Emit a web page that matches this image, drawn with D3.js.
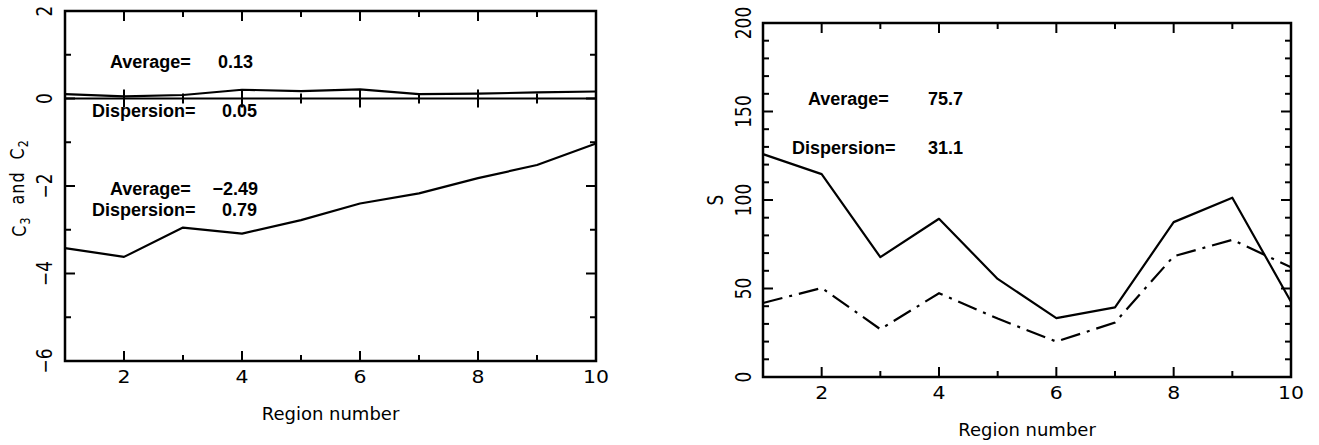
<!DOCTYPE html>
<html>
<head>
<meta charset="utf-8">
<script src="https://cdn.jsdelivr.net/npm/d3@7"></script>
<style>
body { margin: 0; background: #fff; }
svg { display: block; }
</style>
</head>
<body>
<svg id="chart" width="1319" height="445"></svg>
<script>
var regions = [1, 2, 3, 4, 5, 6, 7, 8, 9, 10];
var c2_values = [0.10, 0.05, 0.08, 0.20, 0.17, 0.21, 0.10, 0.11, 0.14, 0.16];
var c3_values = [-3.42, -3.62, -2.95, -3.09, -2.78, -2.40, -2.17, -1.82, -1.52, -1.03];
var s_solid = [125.9, 114.6, 67.7, 89.4, 55.4, 33.3, 39.3, 87.5, 101.3, 42.5];
var s_dashdot = [41.8, 50.3, 27.0, 47.3, 33.0, 20.0, 30.8, 68.2, 77.5, 62.0];
var x_tick_labels = [2, 4, 6, 8, 10];
var left_y_labels = [2, 0, -2, -4, -6];
var right_y_labels = [0, 50, 100, 150, 200];
var left_notes = [['Average=', '0.13'], ['Dispersion=', '0.05'], ['Average=', '\u22122.49'], ['Dispersion=', '0.79']];
var right_notes = [['Average=', '75.7'], ['Dispersion=', '31.1']];

var svg = d3.select('#chart');
var font = 'DejaVu Sans, sans-serif';
var note_font = 'Liberation Sans, Arial, sans-serif';
var fmt = d3.format('d');

function draw_ticks(g, x, y, y_minor, y_major_step) {
    var xr = x.range(), yr = y.range();
    var x_minor = d3.range(1, 11);
    var segs = [];
    x_minor.forEach(function (v) {
        var len = v % 2 == 0 ? 10 : 6;
        segs.push([x(v), yr[0], x(v), yr[0] - len]);
        segs.push([x(v), yr[1], x(v), yr[1] + len]);
    });
    y_minor.forEach(function (v) {
        var len = v % y_major_step == 0 ? 10 : 6;
        segs.push([xr[0], y(v), xr[0] + len, y(v)]);
        segs.push([xr[1], y(v), xr[1] - len, y(v)]);
    });
    g.selectAll('line.tick').data(segs).enter().append('line')
        .attr('class', 'tick')
        .attr('x1', function (d) { return d[0]; })
        .attr('y1', function (d) { return d[1]; })
        .attr('x2', function (d) { return d[2]; })
        .attr('y2', function (d) { return d[3]; })
        .attr('stroke', 'black')
        .attr('stroke-width', 2);
    g.append('rect')
        .attr('x', xr[0])
        .attr('y', yr[1])
        .attr('width', xr[1] - xr[0])
        .attr('height', yr[0] - yr[1])
        .attr('fill', 'none')
        .attr('stroke', 'black')
        .attr('stroke-width', 2.5);
}

function draw_labels(g, x, y, y_labels, label_x, x_title) {
    var yb = y.range()[0];
    g.selectAll('text.xl').data(x_tick_labels).enter().append('text')
        .attr('class', 'xl')
        .attr('transform', function (d) { return 'translate(' + x(d) + ',' + (yb + 22) + ') scale(1.2,1)'; })
        .attr('text-anchor', 'middle')
        .style('font-family', font)
        .style('font-size', '17px')
        .text(fmt);
    g.selectAll('text.yl').data(y_labels).enter().append('text')
        .attr('class', 'yl')
        .attr('transform', function (d) { return 'translate(' + label_x + ',' + y(d) + ') scale(1.2,1) rotate(-90)'; })
        .attr('text-anchor', 'middle')
        .attr('dy', '0.36em')
        .style('font-family', font)
        .style('font-size', '17px')
        .text(fmt);
    var xr = x.range();
    g.append('text')
        .attr('x', (xr[0] + xr[1]) / 2)
        .attr('y', yb + 59)
        .attr('text-anchor', 'middle')
        .style('font-family', font)
        .style('font-size', '18px')
        .text(x_title);
}

function draw_notes(g, notes, spots) {
    notes.forEach(function (n, i) {
        var s = spots[i];
        g.append('text')
            .attr('x', s[0]).attr('y', s[2])
            .style('font-family', note_font).style('font-size', '18px').style('font-weight', 'bold')
            .text(n[0]);
        g.append('text')
            .attr('x', s[1]).attr('y', s[2])
            .attr('text-anchor', 'end')
            .style('font-family', note_font).style('font-size', '18px').style('font-weight', 'bold')
            .text(n[1]);
    });
}

// left panel: C3 and C2
var xl = d3.scaleLinear().domain([1, 10]).range([65, 596]);
var yl = d3.scaleLinear().domain([-6, 2]).range([361, 11]);
var left = svg.append('g');
var line_l = d3.line()
    .x(function (d) { return xl(d[0]); })
    .y(function (d) { return yl(d[1]); });

left.append('line')
    .attr('x1', xl(1)).attr('x2', xl(10))
    .attr('y1', yl(0)).attr('y2', yl(0))
    .attr('stroke', 'black').attr('stroke-width', 2);
left.selectAll('line.zt').data(regions).enter().append('line')
    .attr('class', 'zt')
    .attr('x1', function (d) { return xl(d); })
    .attr('x2', function (d) { return xl(d); })
    .attr('y1', function (d) { return yl(0) - (d % 2 == 0 ? 9 : 5); })
    .attr('y2', function (d) { return yl(0) + (d % 2 == 0 ? 9 : 5); })
    .attr('stroke', 'black').attr('stroke-width', 2);

[c2_values, c3_values].forEach(function (vals) {
    left.append('path')
        .attr('d', line_l(d3.zip(regions, vals)))
        .attr('fill', 'none')
        .attr('stroke', 'black')
        .attr('stroke-width', 2.2)
        .attr('stroke-linejoin', 'round');
});
draw_ticks(left, xl, yl, d3.range(-6, 2.5, 1), 2);
draw_labels(left, xl, yl, left_y_labels, 45, 'Region number');
draw_notes(left, left_notes, [[110, 253, 68], [92, 257, 117], [110, 258, 195], [92, 257, 216]]);

var ytl = left.append('text')
    .attr('transform', 'translate(19,188) scale(1.2,1) rotate(-90)')
    .attr('text-anchor', 'middle')
    .attr('dy', '0.36em')
    .style('font-family', font)
    .style('font-size', '16px')
    .style('word-spacing', '6px')
    .style('letter-spacing', '1px');
ytl.append('tspan').text('C');
ytl.append('tspan').attr('dy', '0.3em').style('font-size', '11px').text('3');
ytl.append('tspan').attr('dy', '-0.3em').text(' and C');
ytl.append('tspan').attr('dy', '0.3em').style('font-size', '11px').text('2');

// right panel: S
var xr = d3.scaleLinear().domain([1, 10]).range([763, 1291]);
var yr = d3.scaleLinear().domain([0, 200]).range([377, 23]);
var right = svg.append('g');
var line_r = d3.line()
    .x(function (d) { return xr(d[0]); })
    .y(function (d) { return yr(d[1]); });

right.append('path')
    .attr('d', line_r(d3.zip(regions, s_solid)))
    .attr('fill', 'none')
    .attr('stroke', 'black')
    .attr('stroke-width', 2.2)
    .attr('stroke-linejoin', 'round');
right.append('path')
    .attr('d', line_r(d3.zip(regions, s_dashdot)))
    .attr('fill', 'none')
    .attr('stroke', 'black')
    .attr('stroke-width', 2.2)
    .attr('stroke-dasharray', '20,7,3,7');
draw_ticks(right, xr, yr, d3.range(0, 201, 10), 50);
draw_labels(right, xr, yr, right_y_labels, 744, 'Region number');
draw_notes(right, right_notes, [[808, 963, 105], [792, 963, 154]]);

right.append('text')
    .attr('transform', 'translate(716,200) scale(1.2,1) rotate(-90)')
    .attr('text-anchor', 'middle')
    .attr('dy', '0.36em')
    .style('font-family', font)
    .style('font-size', '17px')
    .text('S');
</script>
</body>
</html>
